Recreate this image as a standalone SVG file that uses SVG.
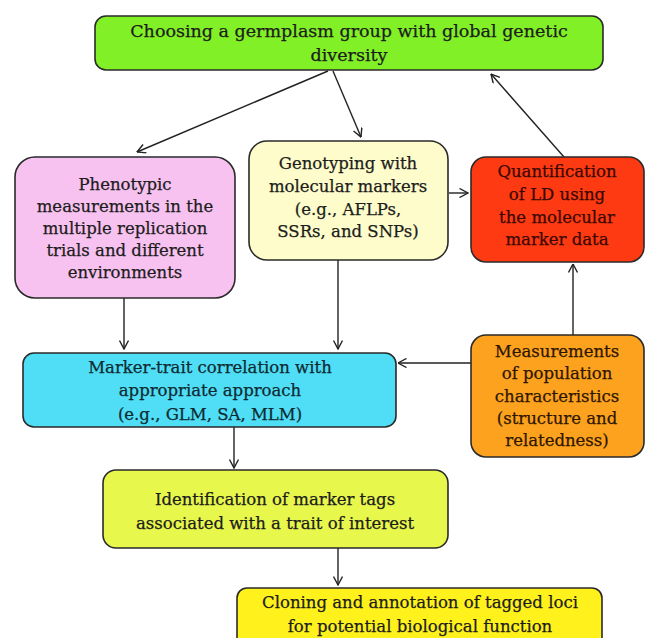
<svg xmlns="http://www.w3.org/2000/svg" width="650" height="638" viewBox="0 0 650 638">
<defs>
<marker id="ah" viewBox="0 0 10 10" refX="9.5" refY="5" markerWidth="10" markerHeight="10" markerUnits="userSpaceOnUse" orient="auto">
<path d="M1,0.5 L9.5,5 L1,9.5" fill="none" stroke="#222" stroke-width="1.4"/>
</marker>
<style>
.box{stroke:#2a2a2a;stroke-width:1.6}
.t{font-family:"DejaVu Serif","Liberation Serif",serif;font-size:16.5px;text-anchor:middle;fill:#1c1c1c;stroke:#1c1c1c;stroke-width:0.25}
.c{fill:none;stroke:#222;stroke-width:1.4;marker-end:url(#ah)}
</style>
</defs>
<rect width="650" height="638" fill="#ffffff"/>
<g id="connectors">
<line class="c" x1="328" y1="71" x2="137" y2="152"/>
<line class="c" x1="333" y1="71" x2="361" y2="137"/>
<line class="c" x1="564" y1="157" x2="491" y2="74"/>
<line class="c" x1="449" y1="193" x2="468" y2="193"/>
<line class="c" x1="124" y1="298" x2="124" y2="349"/>
<line class="c" x1="338" y1="260" x2="338" y2="349"/>
<line class="c" x1="471" y1="363" x2="398" y2="363"/>
<line class="c" x1="573" y1="335" x2="573" y2="264"/>
<line class="c" x1="234" y1="427" x2="234" y2="468"/>
<line class="c" x1="338" y1="548" x2="338" y2="585"/>
</g>
<g id="n-germplasm">
<rect class="box" x="95" y="16" width="508" height="54" rx="11" fill="#82f026"/>
<text class="t" x="349" y="37" style="font-size:17.5px">Choosing a germplasm group with global genetic</text>
<text class="t" x="349" y="61" style="font-size:17.5px">diversity</text>
</g>
<g id="n-phenotypic">
<rect class="box" x="15" y="157" width="220" height="141" rx="20" fill="#f8c2f0"/>
<text class="t" x="125" y="190">Phenotypic</text>
<text class="t" x="125" y="212">measurements in the</text>
<text class="t" x="125" y="234">multiple replication</text>
<text class="t" x="125" y="256">trials and different</text>
<text class="t" x="125" y="278">environments</text>
</g>
<g id="n-genotyping">
<rect class="box" x="249" y="141" width="199" height="119" rx="18" fill="#fdfcca"/>
<text class="t" x="348" y="169">Genotyping with</text>
<text class="t" x="348" y="192">molecular markers</text>
<text class="t" x="348" y="215">(e.g., AFLPs,</text>
<text class="t" x="348" y="237">SSRs, and SNPs)</text>
</g>
<g id="n-ld">
<rect class="box" x="471" y="157" width="173" height="105" rx="15" fill="#fd3a12"/>
<text class="t" x="557" y="177" style="fill:#3a0800;stroke:#3a0800">Quantification</text>
<text class="t" x="557" y="200" style="fill:#3a0800;stroke:#3a0800">of LD using</text>
<text class="t" x="557" y="223" style="fill:#3a0800;stroke:#3a0800">the molecular</text>
<text class="t" x="557" y="245" style="fill:#3a0800;stroke:#3a0800">marker data</text>
</g>
<g id="n-correlation">
<rect class="box" x="23" y="353" width="373" height="74" rx="11" fill="#50def7"/>
<text class="t" x="210" y="373" style="fill:#0e2a30;stroke:#0e2a30">Marker-trait correlation with</text>
<text class="t" x="210" y="396" style="fill:#0e2a30;stroke:#0e2a30">appropriate approach</text>
<text class="t" x="210" y="420" style="fill:#0e2a30;stroke:#0e2a30">(e.g., GLM, SA, MLM)</text>
</g>
<g id="n-population">
<rect class="box" x="471" y="335" width="173" height="122" rx="15" fill="#fda21e"/>
<text class="t" x="557" y="357" style="fill:#2e1600;stroke:#2e1600">Measurements</text>
<text class="t" x="557" y="379" style="fill:#2e1600;stroke:#2e1600">of population</text>
<text class="t" x="557" y="402" style="fill:#2e1600;stroke:#2e1600">characteristics</text>
<text class="t" x="557" y="424" style="fill:#2e1600;stroke:#2e1600">(structure and</text>
<text class="t" x="557" y="446" style="fill:#2e1600;stroke:#2e1600">relatedness)</text>
</g>
<g id="n-identification">
<rect class="box" x="103" y="470" width="345" height="78" rx="13" fill="#e8f74c"/>
<text class="t" x="275" y="505">Identification of marker tags</text>
<text class="t" x="275" y="529">associated with a trait of interest</text>
</g>
<g id="n-cloning">
<rect class="box" x="237" y="588" width="365" height="60" rx="10" fill="#fff21c"/>
<text class="t" x="420" y="608">Cloning and annotation of tagged loci</text>
<text class="t" x="420" y="632">for potential biological function</text>
</g>
</svg>
